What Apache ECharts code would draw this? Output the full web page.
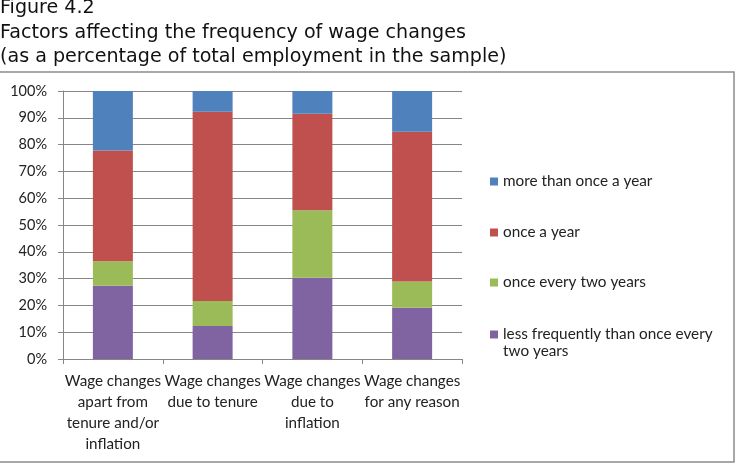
<!DOCTYPE html>
<html><head><meta charset="utf-8">
<script src="https://cdn.jsdelivr.net/npm/echarts@6/dist/echarts.min.js"></script>
<style>html,body{margin:0;padding:0;background:#fff}#c{width:735px;height:466px}</style>
</head><body><div id="c"></div>
<script>
const titleLines = ["Figure 4.2", "Factors affecting the frequency of wage changes", "(as a percentage of total employment in the sample)"];
const categories = ["Wage changes\napart from\ntenure and/or\ninflation", "Wage changes\ndue to tenure", "Wage changes\ndue to\ninflation", "Wage changes\nfor any reason"];
const lessFrequently = [27.3, 12.3, 30.3, 19.1];
const everyTwoYears = [9.2, 9.3, 25.2, 9.8];
const onceAYear = [41.3, 70.7, 36.0, 55.9];
const moreThanOnce = [22.2, 7.7, 8.5, 15.2];
const seriesNames = ["less frequently than once every two years", "once every two years", "once a year", "more than once a year"];
const yTicks = [0, 10, 20, 30, 40, 50, 60, 70, 80, 90, 100];
const colors = ["#8064A2", "#9BBB59", "#C0504D", "#4F81BD"];

const chart = echarts.init(document.getElementById('c'), null, {renderer: 'canvas'});
const font = 'Lato';
const values = [lessFrequently, everyTwoYears, onceAYear, moreThanOnce];
const series = values.map((v, i) => ({
  name: seriesNames[i], type: 'bar', stack: 'all', data: v, barWidth: 40,
  itemStyle: {color: colors[i]}, animation: false
}));
const legendTops = [169, 220, 270, 322];
const legends = [3, 2, 1, 0].map((si, k) => ({
  orient: 'vertical', left: 485, top: legendTops[k], itemWidth: 8, itemHeight: 8,
  icon: 'rect', data: [seriesNames[si]], selectedMode: false,
  formatter: n => n === seriesNames[0] ? 'less frequently than once every' : n,
  textStyle: {fontFamily: font, fontSize: 15.3, color: '#222'}
}));
chart.setOption({
  animation: false,
  graphic: [
    {type: 'rect', shape: {x: -2, y: 72, width: 736, height: 390}, style: {fill: 'none', stroke: '#8c8c8c', lineWidth: 1.5}},
    {type: 'text', left: 0, top: -4, style: {text: titleLines.join('\n'), font: '19.1px "DejaVu Sans"', lineHeight: 24.5, fill: '#111'}},
    {type: 'text', left: 503, top: 344, style: {text: 'two years', font: '15.3px Lato', fill: '#222'}}
  ],
  grid: {left: 63, right: 273, top: 91, bottom: 107},
  legend: legends,
  xAxis: {type: 'category', data: categories,
    axisLine: {lineStyle: {color: '#868686'}},
    axisTick: {show: true, length: 5, lineStyle: {color: '#868686'}},
    axisLabel: {interval: 0, margin: 12, fontFamily: font, fontSize: 15.2, color: '#222', lineHeight: 21}},
  yAxis: {type: 'value', min: 0, max: 100, interval: 10,
    axisLine: {show: true, lineStyle: {color: '#868686'}},
    axisTick: {show: true, length: 5, lineStyle: {color: '#868686'}},
    splitLine: {lineStyle: {color: '#868686'}},
    axisLabel: {formatter: v => yTicks.includes(v) ? v + '%' : '', margin: 16, fontFamily: font, fontSize: 14.5, color: '#222'}},
  series: series
});
</script></body></html>
